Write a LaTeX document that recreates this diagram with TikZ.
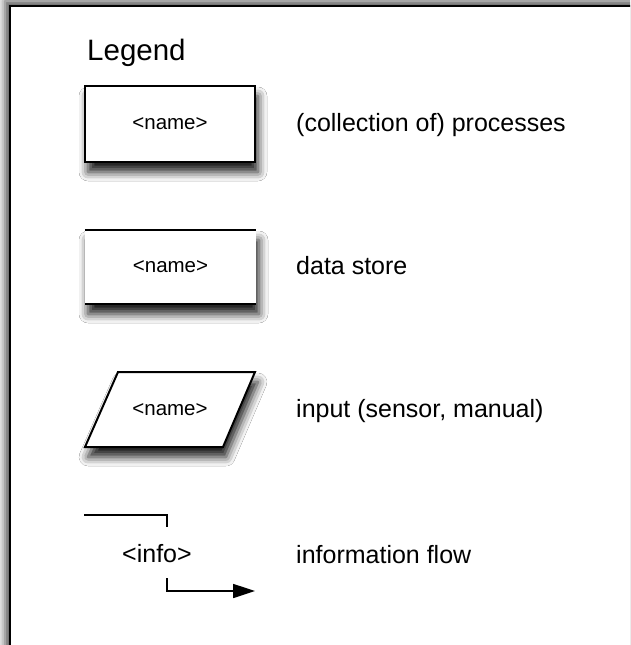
\documentclass[tikz,border=0pt]{standalone}
\usepackage{fontspec}
\setmainfont{Liberation Sans}
\usetikzlibrary{arrows.meta,shadows.blur}

\tikzset{
  boxshadow/.style={blur shadow={shadow xshift=3pt, shadow yshift=-10pt, shadow blur radius=9pt, shadow opacity=90}},
  shapebox/.style={draw=black, line width=2pt, fill=white, boxshadow},
  nametext/.style={font=\fontsize{20.5}{24}\selectfont, inner sep=0pt},
  labeltext/.style={font=\fontsize{25}{29}\selectfont, anchor=west, inner sep=0pt},
  flow/.style={draw=black, line width=1.7pt},
}

\begin{document}
\begin{tikzpicture}[x=1pt, y=-1pt]
  \useasboundingbox (0,0) rectangle (630,645);
  \clip (0,0) rectangle (630,645);

  % sheet with its shadow on the upper and left edges
  \path[fill=white, blur shadow={shadow xshift=-5pt, shadow yshift=5pt, shadow blur radius=8pt, shadow opacity=70}]
    (10,6) rectangle (700,720);
  \draw[line width=2.2pt] (700,6) -- (10,6) -- (10,720);

  % title
  \node[font=\fontsize{29.5}{34}\selectfont, anchor=base west, inner sep=0pt] (title) at (87,60) {Legend};

  % process
  \node[shapebox, minimum width=170pt, minimum height=76pt, inner sep=0pt] (proc) at (170,124) {};
  \node[nametext] (procname) at (proc.center) {<name>};
  \node[labeltext] (proclabel) at (296,125) {(collection of) processes};

  % data store: only top and bottom lines
  \node[fill=white, minimum width=171pt, minimum height=74pt, inner sep=0pt, boxshadow] (store) at (170.5,267) {};
  \draw[line width=2pt] (store.north west) -- (store.north east);
  \draw[line width=2pt] (store.south west) -- (store.south east);
  \node[nametext] (storename) at (store.center) {<name>};
  \node[labeltext] (storelabel) at (296,266) {data store};

  % input parallelogram
  \coordinate (in1) at (118,372);
  \coordinate (in2) at (255,372);
  \coordinate (in3) at (223,447);
  \coordinate (in4) at (85,447);
  \path[shapebox] (in1) -- (in2) -- (in3) -- (in4) -- cycle;
  \node[nametext] (inname) at (170,410) {<name>};
  \node[labeltext] (inlabel) at (296,411) {input (sensor, manual)};

  % information flow
  \node[font=\fontsize{25}{29}\selectfont, inner sep=0pt] (info) at (157,554) {<info>};
  \coordinate (fa) at (84,515);
  \coordinate (fb) at (167,515);
  \coordinate (fc) at (167,527);
  \coordinate (fd) at (167,578);
  \coordinate (fe) at (167,591);
  \coordinate (ff) at (255,591);
  \draw[flow] (fa) -- (fb) -- (fc);
  \draw[flow, -{Triangle[length=22pt, width=14pt]}] (fd) -- (fe) -- (ff);
  \node[labeltext] (flowlabel) at (296,555) {information flow};
\end{tikzpicture}
\end{document}
